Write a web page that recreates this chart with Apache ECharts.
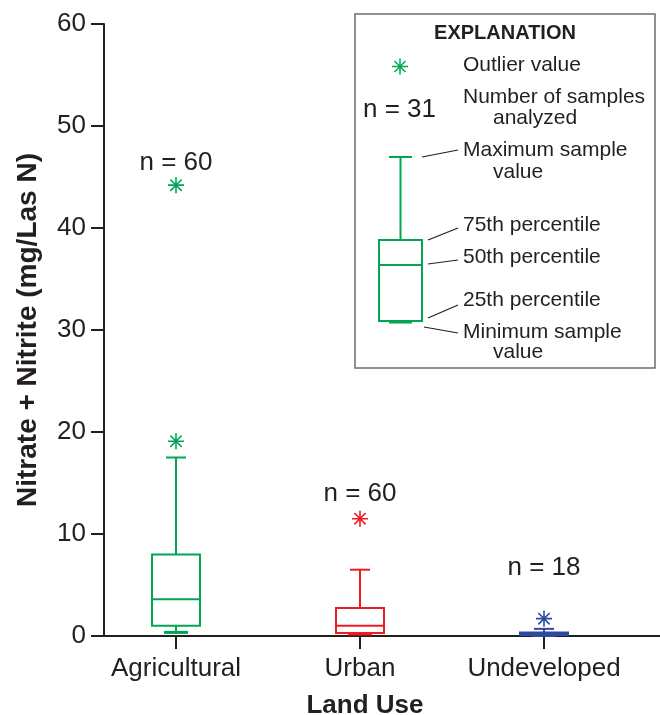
<!DOCTYPE html>
<html lang="en">
<head>
    <meta charset="UTF-8">
    <title>Nitrate + Nitrite by Land Use</title>
    <script src="https://cdn.jsdelivr.net/npm/echarts@6/dist/echarts.min.js"></script>
    <style>
        * { margin: 0; padding: 0; }
        body { background: #fff; }
        #chart { width: 660px; height: 715px; }
    </style>
</head>
<body>
    <div id="chart"></div>
    <script type="text/javascript">
        // data
        const categories = ['Agricultural', 'Urban', 'Undeveloped'];
        const boxMin = [0.35, 0.2, 0.05];
        const boxQ1 = [1.0, 0.3, 0.1];
        const boxMedian = [3.6, 1.0, 0.2];
        const boxQ3 = [8.0, 2.75, 0.35];
        const boxMax = [17.5, 6.5, 0.7];
        const outliers = [[44.2, 19.1], [11.5], [1.7]];
        const sampleCounts = [60, 60, 18];
        const countLabelAt = [46.4, 13.9, 6.7];

        const colors = ['#00a651', '#ed1c24', '#2e4a9e'];
        const ink = '#231f20';
        const font = '"Liberation Sans", Arial, Helvetica, sans-serif';
        const asterisk = 'path://M5,0L5,10M0,5L10,5M1.46,1.46L8.54,8.54M1.46,8.54L8.54,1.46';

        var myChart = echarts.init(document.getElementById('chart'));

        let boxData = [];
        let outlierData = [];
        let countData = [];
        for (let i = 0; i < categories.length; i++) {
            boxData.push([i + 1, boxMin[i], boxQ1[i], boxMedian[i], boxQ3[i], boxMax[i]]);
            outliers[i].forEach(v => {
                outlierData.push({ value: [i + 1, v], itemStyle: { borderColor: colors[i] } });
            });
            countData.push({ value: [i + 1, countLabelAt[i]], label: { formatter: 'n = ' + sampleCounts[i] } });
        }

        // box, whiskers and caps drawn from the axis scales
        function renderBox(params, api) {
            const x = api.value(0);
            const pMin = api.coord([x, api.value(1)]);
            const pQ1 = api.coord([x, api.value(2)]);
            const pMed = api.coord([x, api.value(3)]);
            const pQ3 = api.coord([x, api.value(4)]);
            const pMax = api.coord([x, api.value(5)]);
            const cx = pMed[0];
            const half = 24, cap = 10;
            const style = { stroke: colors[params.dataIndex], lineWidth: 2, fill: null };
            return {
                type: 'group',
                children: [
                    { type: 'line', shape: { x1: cx, y1: pQ3[1], x2: cx, y2: pMax[1] }, style: style },
                    { type: 'line', shape: { x1: cx - cap, y1: pMax[1], x2: cx + cap, y2: pMax[1] }, style: style },
                    { type: 'line', shape: { x1: cx, y1: pQ1[1], x2: cx, y2: pMin[1] }, style: style },
                    { type: 'line', shape: { x1: cx - 12, y1: pMin[1], x2: cx + 12, y2: pMin[1] }, style: Object.assign({}, style, { lineWidth: 3 }) },
                    { type: 'rect', shape: { x: cx - half, y: pQ3[1], width: half * 2, height: pQ1[1] - pQ3[1] }, style: Object.assign({}, style, { fill: '#fff' }) },
                    { type: 'line', shape: { x1: cx - half, y1: pMed[1], x2: cx + half, y2: pMed[1] }, style: style }
                ]
            };
        }

        // legend box ("EXPLANATION"), fixed drawing
        const g = '#00a651';
        function txt(t, x, y, size, weight, align) {
            return {
                type: 'text', x: x, y: y,
                style: {
                    text: t, fill: ink, font: (weight || 'normal') + ' ' + size + 'px ' + font,
                    align: align || 'left', verticalAlign: 'middle',
                    textAlign: align || 'left', textVerticalAlign: 'middle'
                }
            };
        }
        function ln(x1, y1, x2, y2, color, w) {
            return { type: 'line', shape: { x1: x1, y1: y1, x2: x2, y2: y2 }, style: { stroke: color || ink, lineWidth: w || 1.2 } };
        }
        const legendGraphics = [
            { type: 'rect', shape: { x: 355, y: 14, width: 300, height: 354 }, style: { fill: '#fff', stroke: '#6d6e71', lineWidth: 1.5 } },
            txt('EXPLANATION', 505, 33, 20, 'bold', 'center'),
            ln(400, 58.5, 400, 74.5, g, 1.5), ln(392, 66.5, 408, 66.5, g, 1.5),
            ln(394.5, 61, 405.5, 72, g, 1.5), ln(394.5, 72, 405.5, 61, g, 1.5),
            txt('Outlier value', 463, 65, 21),
            txt('n = 31', 363, 110, 26),
            txt('Number of samples', 463, 97, 21),
            txt('analyzed', 493, 118, 21),
            // mini box
            ln(389, 157, 412, 157, g, 2), ln(400.5, 157, 400.5, 240, g, 2),
            { type: 'rect', shape: { x: 379, y: 240, width: 43, height: 81 }, style: { fill: 'none', stroke: g, lineWidth: 2 } },
            ln(379, 265, 422, 265, g, 2),
            ln(389, 322, 412, 322, g, 3),
            // leader lines
            ln(422, 157, 458, 150), ln(428, 240, 458, 228), ln(428, 264, 458, 260),
            ln(428, 318, 458, 305), ln(424, 327, 458, 333),
            txt('Maximum sample', 463, 150, 21), txt('value', 493, 172, 21),
            txt('75th percentile', 463, 225, 21),
            txt('50th percentile', 463, 257, 21),
            txt('25th percentile', 463, 300, 21),
            txt('Minimum sample', 463, 332, 21), txt('value', 493, 352, 21)
        ];

        option = {
            animation: false,
            backgroundColor: '#fff',
            textStyle: { fontFamily: font, color: ink },
            grid: { left: 104, right: 0, top: 24, bottom: 79, containLabel: false, outerBoundsMode: 'none' },
            xAxis: {
                type: 'value',
                min: 1 - 72 / 184,
                max: 3 + 116 / 184,
                name: 'Land Use',
                nameLocation: 'middle',
                nameGap: 57,
                nameTextStyle: { fontSize: 26, fontWeight: 'bold', color: ink, fontFamily: font, padding: [0, 34, 0, 0] },
                splitLine: { show: false },
                axisLine: { show: true, onZero: false, lineStyle: { color: ink, width: 2 } },
                axisTick: { show: true, length: 13, customValues: [1, 2, 3], lineStyle: { color: ink, width: 2 } },
                axisLabel: {
                    customValues: [1, 2, 3], margin: 20, fontSize: 26, color: ink, fontFamily: font,
                    formatter: v => categories[Math.round(v) - 1] || ''
                }
            },
            yAxis: {
                type: 'value',
                min: 0, max: 60, interval: 10,
                name: 'Nitrate + Nitrite (mg/Las N)',
                nameLocation: 'middle',
                nameGap: 62,
                nameRotate: 90,
                nameTextStyle: { fontSize: 28, fontWeight: 'bold', color: ink, fontFamily: font },
                splitLine: { show: false },
                axisLine: { show: true, lineStyle: { color: ink, width: 2 } },
                axisTick: { show: true, length: 13, lineStyle: { color: ink, width: 2 } },
                axisLabel: { margin: 18, fontSize: 26, color: ink, fontFamily: font }
            },
            series: [
                {
                    type: 'custom',
                    renderItem: renderBox,
                    encode: { x: 0, y: [1, 2, 3, 4, 5] },
                    data: boxData,
                    z: 2
                },
                {
                    type: 'scatter',
                    symbol: asterisk,
                    symbolSize: 16,
                    itemStyle: { color: 'rgba(0,0,0,0)', borderWidth: 1.6, opacity: 1 },
                    data: outlierData,
                    z: 3
                },
                {
                    type: 'scatter',
                    symbolSize: 0,
                    itemStyle: { opacity: 1 },
                    label: { show: true, position: 'inside', fontSize: 26, color: ink, fontFamily: font },
                    data: countData,
                    z: 3
                }
            ],
            graphic: legendGraphics
        };

        myChart.setOption(option);
    </script>
</body>
</html>
